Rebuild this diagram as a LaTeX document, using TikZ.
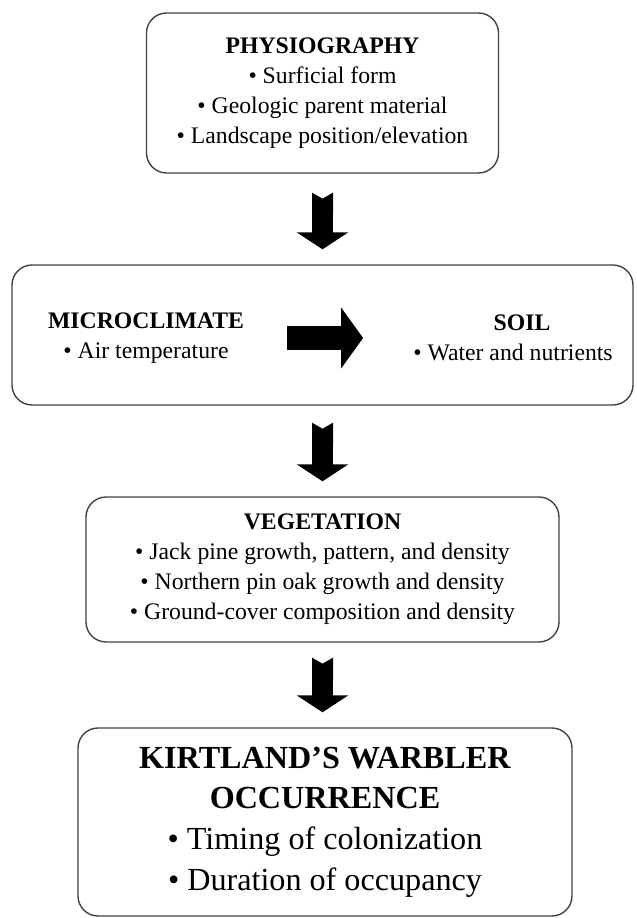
\documentclass[tikz,border=0pt]{standalone}
\usepackage{fontspec}
\setmainfont{Liberation Serif}
\usetikzlibrary{arrows.meta,positioning}

\tikzset{
	box/.style={draw=black!75, line width=1.3pt, rounded corners=0.67cm, align=center, inner sep=0pt},
	txt/.style={align=center, inner sep=0pt, font=\fontsize{22.5}{28.5}\selectfont},
	bigtxt/.style={align=center, inner sep=0pt, font=\fontsize{30.5}{38.5}\selectfont},
	downarrow/.style={line width=0.7cm, {Triangle Cap[reversed,length=0.2cm]}-{Triangle[width=1.7cm,length=0.567cm]}},
	sidearrow/.style={line width=0.767cm, -{Triangle[width=2cm,length=0.733cm]}}
}

\begin{document}
\begin{tikzpicture}
			%%%%% START %%%%%
			\useasboundingbox (0, 0) rectangle (21.233, 30.6);
			
			\node[box, txt, minimum width=11.733cm, minimum height=5.333cm] (phys) at (10.75, 27.5)
				{\textbf{PHYSIOGRAPHY}\\• Surficial form\\• Geologic parent material\\• Landscape position/elevation};
			
			\node[box, minimum width=20.7cm, minimum height=4.667cm] (clim) at (10.75, 19.433) {};
			\node[txt] (micro) at (4.867, 19.333) {\textbf{MICROCLIMATE}\\• Air temperature};
			\node[txt] (soil) at (17.1, 19.333) {\hspace*{0.6cm}\textbf{SOIL}\\• Water and nutrients};
			
			\node[box, txt, minimum width=15.767cm, minimum height=4.833cm] (veg) at (10.75, 11.617)
				{\textbf{VEGETATION}\\• Jack pine growth, pattern, and density\\• Northern pin oak growth and density\\• Ground-cover composition and density};
			
			\node[box, bigtxt, minimum width=16.467cm, minimum height=6.267cm] (kw) at (10.833, 3.2)
				{\textbf{KIRTLAND’S WARBLER}\\\textbf{OCCURRENCE}\\• Timing of colonization\\• Duration of occupancy};
			
			%%%%% ARROWS %%%%%
			\draw[downarrow, shorten <=0.633cm, shorten >=0.5cm] (phys.south) -- (clim.north);
			\draw[downarrow, shorten <=0.567cm, shorten >=0.5cm] (clim.south) -- (veg.north);
			\draw[downarrow, shorten <=0.5cm, shorten >=0.5cm] (veg.south) -- (veg.south |- kw.north);
			\draw[sidearrow, shorten <=1.433cm, shorten >=1.667cm] (micro.east) -- (soil.west);
			
			%%%%% END %%%%%
\end{tikzpicture}
\end{document}
